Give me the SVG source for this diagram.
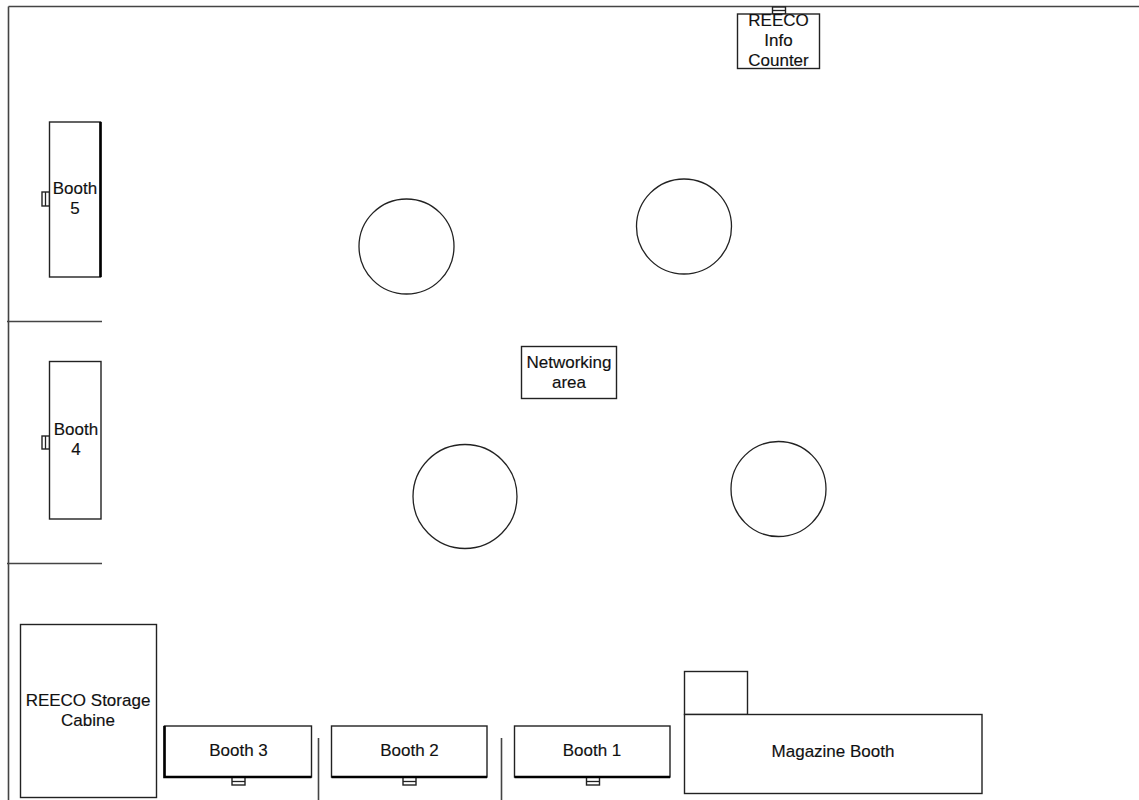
<svg xmlns="http://www.w3.org/2000/svg" width="1139" height="800" viewBox="0 0 1139 800">
<style>
.s{fill:#fff;stroke:#222;stroke-width:1.4}
.n{fill:none;stroke:#222;stroke-width:1.3}
.w{fill:none;stroke:#444;stroke-width:1.6}
.d{fill:none;stroke:#222;stroke-width:1.3}
.h{fill:none;stroke:#000;stroke-width:2.6}
text{font-family:"Liberation Sans",Arial,sans-serif;font-size:17px;fill:#111;text-anchor:middle;stroke:#111;stroke-width:0.15}
</style>
<rect width="1139" height="800" fill="#fff"/>
<g id="walls">
<path class="w" d="M8.500 6.500H1139M8.500 6.500V800"/>
<path class="w" d="M7 321.500H102M7 563.500H102M318.500 738V800M501.500 738V800"/>
</g>
<g id="info-counter">
<rect class="s" x="772.500" y="7" width="13" height="7"/>
<path class="d" d="M772.500 10.500H785.500"/>
<rect class="s" x="737.500" y="14" width="82" height="54.500"/>
<text x="778.500" y="26">REECO</text><text x="778.500" y="46">Info</text><text x="778.500" y="66">Counter</text>
</g>
<g id="booth-5">
<rect class="s" x="42" y="192" width="7.500" height="14"/>
<path class="d" d="M45.500 192V206"/>
<rect class="s" x="49.500" y="122" width="51" height="155"/>
<path class="h" d="M100.500 122V277"/>
<text x="75" y="194">Booth</text><text x="75" y="214">5</text>
</g>
<g id="booth-4">
<rect class="s" x="42" y="436" width="7.500" height="13"/>
<path class="d" d="M45.500 436V449"/>
<rect class="s" x="49.500" y="361.500" width="51.500" height="157.500"/>
<text x="76" y="435">Booth</text><text x="76" y="455">4</text>
</g>
<g id="table-1"><circle class="n" cx="406.500" cy="246.500" r="47.500"/></g>
<g id="table-2"><circle class="n" cx="684" cy="226.500" r="47.500"/></g>
<g id="table-3"><circle class="n" cx="465" cy="496.500" r="52"/></g>
<g id="table-4"><circle class="n" cx="778.500" cy="489" r="47.500"/></g>
<g id="networking-area">
<rect class="s" x="521.500" y="346.500" width="95" height="52"/>
<text x="569" y="368">Networking</text><text x="569" y="388">area</text>
</g>
<g id="storage">
<rect class="s" x="20.500" y="624.500" width="136" height="173"/>
<text x="88" y="706">REECO Storage</text><text x="88" y="726">Cabine</text>
</g>
<g id="booth-3">
<rect class="s" x="232" y="777" width="13" height="8"/>
<path class="d" d="M232 781.500H245"/>
<rect class="s" x="164.500" y="726" width="147" height="51"/>
<path class="h" d="M164.500 726V777H311.500"/>
<text x="238.500" y="756">Booth 3</text>
</g>
<g id="booth-2">
<rect class="s" x="403" y="777" width="13" height="8"/>
<path class="d" d="M403 781.500H416"/>
<rect class="s" x="331.500" y="726" width="155.500" height="51"/>
<path class="h" d="M331.500 777H487"/>
<text x="409.500" y="756">Booth 2</text>
</g>
<g id="booth-1">
<rect class="s" x="586.500" y="777" width="13" height="8"/>
<path class="d" d="M586.500 781.500H599.500"/>
<rect class="s" x="514.500" y="726" width="155.500" height="51"/>
<path class="h" d="M514.500 777H670"/>
<text x="592" y="756">Booth 1</text>
</g>
<g id="magazine-booth">
<rect class="s" x="684.500" y="671.500" width="63" height="43"/>
<rect class="s" x="684.500" y="714.500" width="297.500" height="79"/>
<text x="833" y="757">Magazine Booth</text>
</g>
</svg>
